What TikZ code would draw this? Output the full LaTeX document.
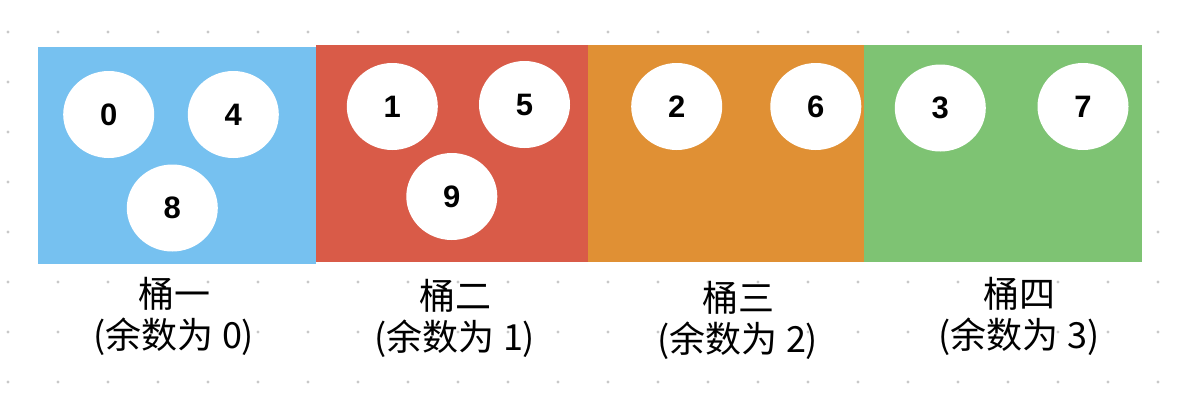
\documentclass[tikz,border=0pt]{standalone}
\usepackage{fontspec}
\usetikzlibrary{shapes.geometric}
\newfontfamily\cjk{Noto Sans CJK SC}
\newfontfamily\numfont{Liberation Sans}
\definecolor{bblue}{HTML}{76C1F0}
\definecolor{bred}{HTML}{D95B48}
\definecolor{borange}{HTML}{E09034}
\definecolor{bgreen}{HTML}{7EC373}
\definecolor{dotgray}{HTML}{C8C8C8}
\begin{document}
\begin{tikzpicture}[x=1pt,y=-1pt,
  ball/.style={ellipse, fill=white, inner sep=0pt, minimum width=91pt, minimum height=87pt,
    font=\numfont\bfseries\fontsize{31}{31}\selectfont},
  lbl/.style={align=center, inner sep=0pt, font=\cjk\fontsize{36}{41}\selectfont}]
\useasboundingbox (0,0) rectangle (1196,410);
\fill[white] (0,0) rectangle (1196,410);
% dot grid
\foreach \i in {0,...,23}{
  \foreach \j in {0,...,7}{
    \fill[dotgray] (8+50*\i,32+50*\j) circle (1.6pt);
  }
}
% buckets
\fill[bblue] (38,47) rectangle (316,263.5);
\fill[bred] (316,45) rectangle (588,261.7);
\fill[borange] (588,45) rectangle (864,261.7);
\fill[bgreen] (864,45) rectangle (1142,262);
% balls
\node[ball] (b0) at (108.7,114.5) {0};
\node[ball] (b4) at (233.3,114.5) {4};
\node[ball] (b8) at (172.3,208) {8};
\node[ball] (b1) at (392.3,106.5) {1};
\node[ball] (b5) at (524.5,104.5) {5};
\node[ball] (b9) at (451.8,196.5) {9};
\node[ball] (b2) at (676.7,106.5) {2};
\node[ball] (b6) at (815.8,106.5) {6};
\node[ball] (b3) at (940.3,108) {3};
\node[ball] (b7) at (1083,106.5) {7};
% labels
\node[lbl] (l0) at (174,316) {桶一\\(余数为 0)};
\node[lbl] (l1) at (455,318) {桶二\\(余数为 1)};
\node[lbl] (l2) at (738,320) {桶三\\(余数为 2)};
\node[lbl] (l3) at (1019,316) {桶四\\(余数为 3)};
\end{tikzpicture}
\end{document}
